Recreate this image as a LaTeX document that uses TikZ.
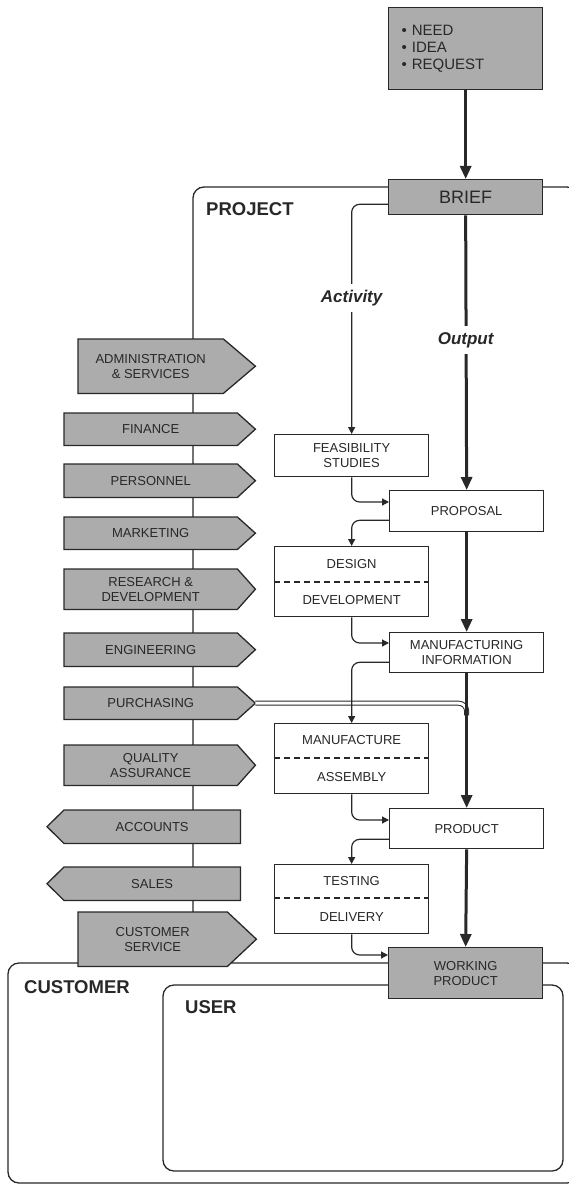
\documentclass[tikz,border=0pt]{standalone}
\usepackage{fontspec}
\setmainfont{Liberation Sans}
\usetikzlibrary{arrows.meta,calc}
\pgfdeclarelayer{back}
\pgfdeclarelayer{bg}
\pgfsetlayers{back,bg,main}
\definecolor{boxgray}{RGB}{172,172,172}
\definecolor{ink}{RGB}{40,40,40}
\newcommand\deptright[2]{\path[deptshape] (#1.north west) -- (#1.north east) -- ($(#1.east)+(#2,0)$) -- (#1.south east) -- (#1.south west) -- cycle;}
\newcommand\deptleft[2]{\path[deptshape] (#1.north west) -- (#1.north east) -- (#1.south east) -- (#1.south west) -- ($(#1.west)+(-#2,0)$) -- cycle;}
\begin{document}
\begin{tikzpicture}[x=1pt,y=-1pt,
  every node/.style={font=\fontsize{13}{15}\selectfont, text=ink},
  wbox/.style={draw=ink, line width=1.3pt, fill=white, inner sep=0pt, minimum width=154pt, anchor=north west, align=center},
  gbox/.style={wbox, fill=boxgray},
  dept/.style={inner sep=0pt, align=center, anchor=north west},
  deptshape/.style={draw=ink, line width=1.3pt, fill=boxgray, line join=miter},
  frame/.style={draw=ink, line width=1.3pt, rounded corners=11pt},
  thinarrow/.style={draw=ink, line width=1.2pt, rounded corners=8pt, -{Triangle[length=7pt,width=7pt]}},
  thickarrow/.style={draw=ink, line width=3pt, -{Triangle[length=13pt,width=11pt]}},
  dbl/.style={draw=ink, line width=1pt, double=white, double distance=3pt, rounded corners=8pt},
  dashsep/.style={draw=ink, line width=1.2pt, dash pattern=on 6pt off 4pt},
  biglabel/.style={font=\fontsize{18.5}{20}\selectfont\bfseries, anchor=west, inner sep=0pt},
  flowlabel/.style={font=\fontsize{17}{19}\selectfont\bfseries\itshape, fill=white, inner xsep=2pt, inner ysep=6pt},
]
\useasboundingbox (0,0) rectangle (569,1185);

% frames
\begin{pgfonlayer}{back}
\draw[frame] (193,965) -- (193,187) -- (578,187) -- (578,965);
\draw[frame] (8,963) rectangle (578,1183);
\draw[frame] (163,985) rectangle (563,1171);
\end{pgfonlayer}

\node[biglabel] (project) at (206,209) {PROJECT};
\node[biglabel] (customer) at (24,987) {CUSTOMER};
\node[biglabel] (user) at (185,1007) {USER};

% output column
\node[gbox, minimum height=82pt, text width=128pt, align=left, font=\fontsize{15}{17}\selectfont] (need) at (388,7) {• NEED\\• IDEA\\• REQUEST};
\node[gbox, minimum height=35pt, font=\fontsize{18}{20}\selectfont] (brief) at (388,179) {BRIEF};
\node[wbox, minimum height=41pt] (prop) at (389,490) {PROPOSAL};
\node[wbox, minimum height=40pt] (mi) at (389,632) {MANUFACTURING\\INFORMATION};
\node[wbox, minimum height=40pt] (prod) at (389,808) {PRODUCT};
\node[gbox, minimum height=51pt] (wp) at (388,947) {WORKING\\PRODUCT};

% activity column
\node[wbox, minimum height=42pt] (feas) at (274,434) {FEASIBILITY\\STUDIES};
\node[wbox, minimum height=70pt] (des) at (274,546) {};
\draw[dashsep] ([yshift=-36pt]des.north west) -- ([yshift=-36pt]des.north east);
\node (desA) at ($(des.north)+(0,18)$) {DESIGN};
\node (desB) at ($(des.south)+(0,-17)$) {DEVELOPMENT};
\node[wbox, minimum height=70pt] (man) at (274,723) {};
\draw[dashsep] ([yshift=-35pt]man.north west) -- ([yshift=-35pt]man.north east);
\node (manA) at ($(man.north)+(0,17.5)$) {MANUFACTURE};
\node (manB) at ($(man.south)+(0,-17.5)$) {ASSEMBLY};
\node[wbox, minimum height=69pt] (test) at (274,864) {};
\draw[dashsep] ([yshift=-34pt]test.north west) -- ([yshift=-34pt]test.north east);
\node (testA) at ($(test.north)+(0,17)$) {TESTING};
\node (testB) at ($(test.south)+(0,-17.5)$) {DELIVERY};

% departments
\node[dept, minimum width=145pt, minimum height=54pt] (adm) at (78,339) {ADMINISTRATION\\\& SERVICES};
\node[dept, minimum width=173pt, minimum height=32pt] (fin) at (64,413) {FINANCE};
\node[dept, minimum width=173pt, minimum height=33pt] (per) at (64,464) {PERSONNEL};
\node[dept, minimum width=173pt, minimum height=32pt] (mkt) at (64,517) {MARKETING};
\node[dept, minimum width=173pt, minimum height=40pt] (rnd) at (64,569) {RESEARCH \&\\DEVELOPMENT};
\node[dept, minimum width=173pt, minimum height=33pt] (eng) at (64,633) {ENGINEERING};
\node[dept, minimum width=173pt, minimum height=32pt] (pur) at (64,687) {PURCHASING};
\node[dept, minimum width=173pt, minimum height=40pt] (qa) at (64,745) {QUALITY\\ASSURANCE};
\node[dept, minimum width=176pt, minimum height=33pt] (acc) at (64,810) {ACCOUNTS};
\node[dept, minimum width=176pt, minimum height=33pt] (sal) at (64,867) {SALES};
\node[dept, minimum width=149pt, minimum height=54pt] (cs) at (78,912) {CUSTOMER\\SERVICE};
\begin{pgfonlayer}{bg}
\deptright{adm}{32}
\deptright{fin}{18}
\deptright{per}{18}
\deptright{mkt}{18}
\deptright{rnd}{18}
\deptright{eng}{18}
\deptright{pur}{18}
\deptright{qa}{18}
\deptleft{acc}{17}
\deptleft{sal}{17}
\deptright{cs}{29}
\end{pgfonlayer}

% purchasing double line
\coordinate (purtip) at ($(pur.east)+(18,0)$);
\coordinate (purend) at ($(mi.south)+(0,42)$);
\draw[dbl] (purtip) -| (purend);

% thick output arrows
\draw[thickarrow] (need.south) -- (brief.north);
\draw[thickarrow] (brief.south) -- (prop.north);
\draw[thickarrow] (prop.south) -- (mi.north);
\draw[thickarrow] (mi.south) -- (prod.north);
\draw[thickarrow] (prod.south) -- (wp.north);

% thin activity arrows
\draw[thinarrow] ([yshift=11pt]brief.south west) -| (feas.north);
\draw[thinarrow] (feas.south) |- ([yshift=-12pt]prop.north west);
\draw[thinarrow] ([yshift=12pt]prop.south west) -| (des.north);
\draw[thinarrow] (des.south) |- ([yshift=-11pt]mi.north west);
\draw[thinarrow] ([yshift=11pt]mi.south west) -| (man.north);
\draw[thinarrow] (man.south) |- ([yshift=-12pt]prod.north west);
\draw[thinarrow] ([yshift=10pt]prod.south west) -| (test.north);
\draw[thinarrow] (test.south) |- ([yshift=-8pt]wp.north west);

% flow labels
\node[flowlabel] (activity) at (feas.north |- 0,298) {Activity};
\node[flowlabel] (output) at (brief.south |- 0,340) {Output};
\end{tikzpicture}
\end{document}
